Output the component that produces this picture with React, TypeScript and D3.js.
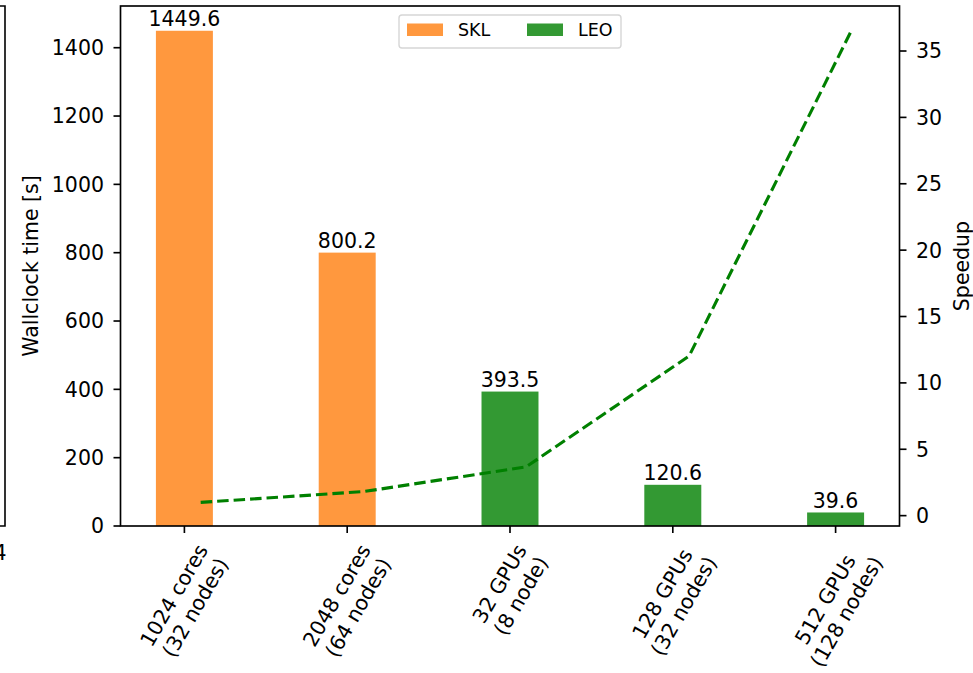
import React, { useEffect, useRef } from "react";
import * as d3 from "d3";

// Benchmark configurations (two-line tick labels)
const configLine1 = ["1024 cores", "2048 cores", "32 GPUs", "128 GPUs", "512 GPUs"];
const configLine2 = ["(32 nodes)", "(64 nodes)", "(8 node)", "(32 nodes)", "(128 nodes)"];
// Which machine each run belongs to
const machine = ["SKL", "SKL", "LEO", "LEO", "LEO"];
// Wallclock time in seconds
const wallclock = [1449.6, 800.2, 393.5, 120.6, 39.6];
// Speedup relative to the 1024-core run
const speedup = [1.0, 1.81, 3.68, 12.02, 36.61];
const leftTicks = [0, 200, 400, 600, 800, 1000, 1200, 1400];
const rightTicks = [0, 5, 10, 15, 20, 25, 30, 35];
const legendNames = ["SKL", "LEO"];

const W = 973;
const H = 673;
const FONT = "DejaVu Sans, sans-serif";
const FS = 20.5;
const LEG_FS = 17.5;
const COLORS: Record<string, string> = { SKL: "#ff983e", LEO: "#339933" };

export default function App() {
  const ref = useRef<SVGSVGElement | null>(null);

  useEffect(() => {
    const svg = d3.select(ref.current);
    svg.selectAll("*").remove();

    const left = 120.5, right = 899.5, top = 6, bottom = 526;
    const barW = 0.35;
    const lineOffset = 0.1;
    const n = wallclock.length;

    // x limits include bar extents plus 5% margins
    const xmin = -barW / 2, xmax = n - 1 + barW / 2;
    const xm = (xmax - xmin) * 0.05;
    const x = d3.scaleLinear().domain([xmin - xm, xmax + xm]).range([left, right]);

    const yL = d3.scaleLinear().domain([0, d3.max(wallclock)! * 1.05]).range([bottom, top]);
    const sMin = d3.min(speedup)!, sMax = d3.max(speedup)!;
    const sm = (sMax - sMin) * 0.05;
    const yR = d3.scaleLinear().domain([sMin - sm, sMax + sm]).range([bottom, top]);

    const g = svg.append("g").attr("font-family", FONT).attr("fill", "#000");

    // Fragment of the neighbouring panel at the left edge
    g.append("path")
      .attr("d", `M0,${top} H5 V${bottom} H0`)
      .attr("fill", "none").attr("stroke", "#000").attr("stroke-width", 1.6);
    g.append("text").attr("x", 0).attr("y", 560).attr("text-anchor", "middle")
      .attr("font-size", FS).text("4");

    // Bars
    const px = (x(1) - x(0)) * barW;
    g.selectAll("rect.bar").data(wallclock).enter().append("rect")
      .attr("x", (_, i) => x(i) - px / 2)
      .attr("y", (d) => yL(d))
      .attr("width", px)
      .attr("height", (d) => bottom - yL(d))
      .attr("fill", (_, i) => COLORS[machine[i]]);

    // Bar value labels
    g.selectAll("text.val").data(wallclock).enter().append("text")
      .attr("x", (_, i) => x(i))
      .attr("y", (d) => yL(d) - 4.5)
      .attr("text-anchor", "middle")
      .attr("font-size", FS)
      .text((d) => d.toFixed(1));

    // Speedup line
    const line = d3.line<number>().x((_, i) => x(i + lineOffset)).y((d) => yR(d));
    g.append("path").datum(speedup).attr("d", line)
      .attr("fill", "none").attr("stroke", "#008000").attr("stroke-width", 3.1)
      .attr("stroke-dasharray", "11.5 5");

    // Frame
    g.append("rect").attr("x", left).attr("y", top).attr("width", right - left)
      .attr("height", bottom - top).attr("fill", "none").attr("stroke", "#000")
      .attr("stroke-width", 1.65);

    const tickLen = 7;
    const pad = 9.5;
    // Left axis ticks
    leftTicks.forEach((t) => {
      const yy = yL(t);
      g.append("line").attr("x1", left - tickLen).attr("x2", left).attr("y1", yy).attr("y2", yy)
        .attr("stroke", "#000").attr("stroke-width", 1.65);
      g.append("text").attr("x", left - tickLen - pad).attr("y", yy).attr("dy", "0.36em")
        .attr("text-anchor", "end").attr("font-size", FS).text(String(t));
    });
    // Right axis ticks
    rightTicks.forEach((t) => {
      const yy = yR(t);
      g.append("line").attr("x1", right).attr("x2", right + tickLen).attr("y1", yy).attr("y2", yy)
        .attr("stroke", "#000").attr("stroke-width", 1.65);
      g.append("text").attr("x", right + tickLen + pad).attr("y", yy).attr("dy", "0.36em")
        .attr("text-anchor", "start").attr("font-size", FS).text(String(t));
    });

    // X ticks and rotated two-line labels
    const rot = (60 * Math.PI) / 180;
    const lineH = 1.2 * FS;
    const blockH = lineH + 1.16 * FS;
    configLine1.forEach((l1, i) => {
      const xx = x(i);
      g.append("line").attr("x1", xx).attr("x2", xx).attr("y1", bottom).attr("y2", bottom + tickLen)
        .attr("stroke", "#000").attr("stroke-width", 1.65);
      const grp = g.append("g");
      const t1 = grp.append("text").attr("text-anchor", "middle").attr("font-size", FS)
        .attr("y", -lineH / 2).attr("dy", "0.36em").text(l1);
      const t2 = grp.append("text").attr("text-anchor", "middle").attr("font-size", FS)
        .attr("y", lineH / 2).attr("dy", "0.36em").text(configLine2[i]);
      const w = Math.max(
        (t1.node() as SVGTextElement).getComputedTextLength(),
        (t2.node() as SVGTextElement).getComputedTextLength()
      );
      const rotH = w * Math.sin(rot) + blockH * Math.cos(rot);
      const cy = bottom + tickLen + 7 + rotH / 2;
      grp.attr("transform", `translate(${xx},${cy}) rotate(-60)`);
    });

    // Axis titles
    const midY = (top + bottom) / 2;
    g.append("text").attr("transform", `translate(31,${midY}) rotate(-90)`)
      .attr("text-anchor", "middle").attr("dy", "0.36em").attr("font-size", FS)
      .text("Wallclock time [s]");
    g.append("text").attr("transform", `translate(962,${midY}) rotate(-90)`)
      .attr("text-anchor", "middle").attr("dy", "0.36em").attr("font-size", FS)
      .text("Speedup");

    // Legend
    const lg = g.append("g");
    lg.append("rect").attr("x", 399).attr("y", 15).attr("width", 222).attr("height", 33)
      .attr("rx", 3).attr("fill", "#fff").attr("fill-opacity", 0.8)
      .attr("stroke", "#d6d6d6").attr("stroke-width", 1.4);
    const legX = [407, 527];
    legendNames.forEach((name, k) => {
      lg.append("rect").attr("x", legX[k]).attr("y", 23.5).attr("width", 36).attr("height", 12.5)
        .attr("fill", COLORS[name]);
      lg.append("text").attr("x", legX[k] + 51).attr("y", 30).attr("dy", "0.36em")
        .attr("font-size", LEG_FS).text(name);
    });
  }, []);

  return (
    <svg
      ref={ref}
      width={W}
      height={H}
      style={{ position: "absolute", left: 0, top: 0, background: "#fff" }}
    />
  );
}
